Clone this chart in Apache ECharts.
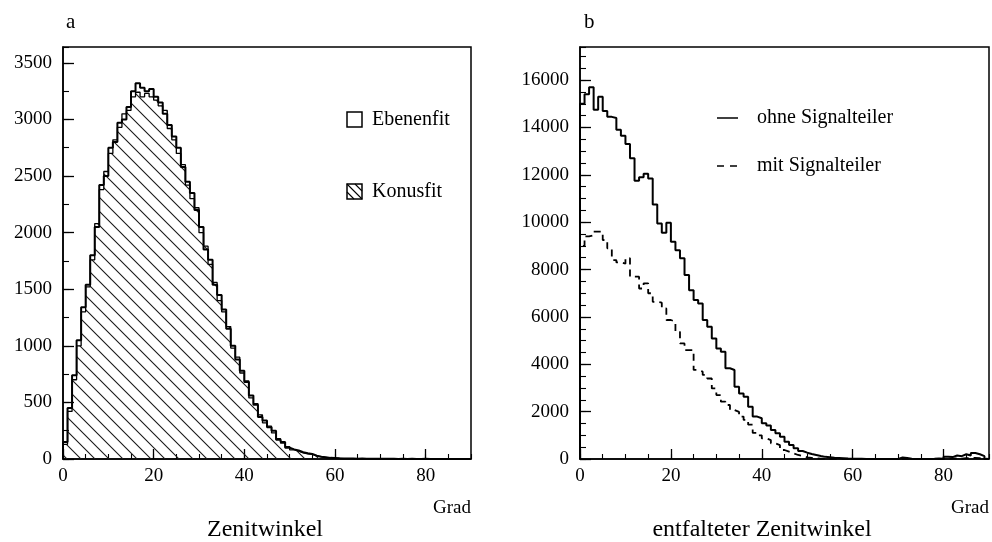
<!DOCTYPE html>
<html>
<head>
<meta charset="utf-8">
<script src="https://cdn.jsdelivr.net/npm/echarts@6/dist/echarts.min.js"></script>
<style>
  html, body { margin: 0; padding: 0; background: #fff; }
  #chart { width: 992px; height: 542px; }
</style>
</head>
<body>
<div id="chart"></div>
<script>
// Histograms of the zenith angle, 1-degree bins from 0 to 90 degrees.
const binWidth = 1;

// Panel a: reconstructed zenith angle
const ebenenfit = [
  150, 450, 740, 1050, 1340, 1540, 1800, 2050, 2420, 2500,
  2750, 2800, 2970, 3000, 3110, 3250, 3320, 3280, 3250, 3270,
  3200, 3150, 3050, 2950, 2850, 2750, 2580, 2450, 2350, 2200,
  2050, 1850, 1760, 1540, 1450, 1320, 1150, 1000, 880, 780,
  680, 560, 480, 370, 340, 280, 250, 170, 150, 100,
  85, 75, 60, 50, 45, 30, 20, 15, 10, 8,
  6, 5, 4, 5, 3, 4, 3, 2, 3, 2,
  2, 3, 2, 1, 2, 1, 2, 1, 1, 2,
  1, 1, 0, 1, 0, 1, 0, 0, 1, 0
];
const konusfit = [
  130, 420, 700, 1000, 1300, 1520, 1760, 2080, 2380, 2540,
  2700, 2820, 2930, 3050, 3080, 3200, 3240, 3200, 3230, 3200,
  3170, 3120, 3080, 2920, 2820, 2700, 2600, 2420, 2300, 2220,
  2000, 1880, 1720, 1560, 1400, 1300, 1170, 980, 900, 760,
  690, 540, 490, 390, 320, 290, 230, 180, 140, 110,
  80, 70, 55, 45, 40, 25, 18, 12, 10, 6,
  5, 4, 3, 4, 2, 3, 2, 2, 2, 1,
  2, 2, 1, 1, 1, 1, 1, 0, 1, 1,
  0, 1, 0, 0, 0, 1, 0, 0, 0, 0
];

// Panel b: unfolded zenith angle
const ohneSignalteiler = [
  15000, 15400, 15700, 14750, 15300, 14700, 14450, 14400, 13900, 13650,
  13300, 12700, 11750, 11900, 12050, 11850, 10750, 9950, 9550, 9980,
  9180, 8820, 8480, 7770, 7130, 6710, 6570, 5870, 5590, 5090,
  4670, 4530, 3830, 3760, 3050, 2770, 2630, 2210, 1790, 1720,
  1510, 1410, 1224, 1083, 942, 732, 591, 450, 338, 267,
  211, 169, 127, 90, 70, 50, 40, 30, 20, 15,
  10, 8, 5, 5, 3, 3, 2, 2, 2, 3,
  60, 40, 10, 5, 5, 3, 5, 10, 20, 10,
  100, 80, 150, 120, 200, 150, 250, 200, 120, 0
];
const mitSignalteiler = [
  9000, 9400, 9450, 9600, 9600, 9250, 8900, 8400, 8300, 8250,
  8480, 7700, 7700, 7200, 7420, 7000, 6640, 6600, 6360, 5870,
  5800, 5370, 4880, 4600, 4600, 3760, 3690, 3550, 3400, 2980,
  2700, 2420, 2280, 2070, 1990, 1790, 1650, 1450, 1100, 1000,
  870, 800, 660, 590, 380, 310, 240, 170, 130, 70,
  50, 30, 20, 15, 10, 8, 5, 4, 3, 2,
  2, 1, 1, 1, 1, 0, 1, 0, 0, 1,
  5, 3, 1, 0, 1, 0, 1, 2, 3, 1,
  20, 15, 30, 20, 40, 30, 50, 40, 20, 0
];

// Axis ranges and tick steps
const xRange = [0, 90];
const xMajor = 20, xMinor = 5;
const yRangeA = [0, 3640], yMajorA = 500, yMinorA = 250;
const yRangeB = [0, 17400], yMajorB = 2000, yMinorB = 500;

const SERIF = '"Liberation Serif", "DejaVu Serif", serif';
const plain = (v) => String(v);

// Bin values -> step polyline vertices (left edge of each bin, closing at the last edge)
function stepPoints(values) {
  const pts = [[0, 0]];
  values.forEach((v, i) => pts.push([i * binWidth, v]));
  pts.push([values.length * binWidth, values[values.length - 1]]);
  return pts;
}

// Diagonal "\" hatch tile used as the fill of the Konusfit area
function hatchTile() {
  const s = 14;
  const c = document.createElement('canvas');
  c.width = s; c.height = s;
  const g = c.getContext('2d');
  g.strokeStyle = '#1a1a1a';
  g.lineWidth = 1.1;
  g.beginPath();
  g.moveTo(-2, -2); g.lineTo(s + 2, s + 2);
  g.moveTo(-2, s - 2); g.lineTo(2, s + 2);
  g.moveTo(s - 2, -2); g.lineTo(s + 2, 2);
  g.stroke();
  return c;
}

function majorX(grid) {
  return {
    type: 'value', gridIndex: grid, position: 'bottom',
    min: xRange[0], max: xRange[1], interval: xMajor,
    axisLine: { show: true, lineStyle: { color: '#000', width: 1.5 } },
    axisTick: { show: true, inside: true, length: 10, lineStyle: { color: '#000', width: 1.3 } },
    axisLabel: { show: true, showMaxLabel: false, formatter: plain, color: '#000', fontFamily: SERIF, fontSize: 19, margin: 8 },
    splitLine: { show: false }
  };
}
function minorX(grid) {
  return {
    type: 'value', gridIndex: grid, position: 'bottom',
    min: xRange[0], max: xRange[1], interval: xMinor,
    axisLine: { show: false },
    axisTick: { show: true, inside: true, length: 5, lineStyle: { color: '#000', width: 1.1 } },
    axisLabel: { show: false },
    splitLine: { show: false }
  };
}
function majorY(grid, range, step) {
  return {
    type: 'value', gridIndex: grid, position: 'left',
    min: range[0], max: range[1], interval: step,
    axisLine: { show: true, lineStyle: { color: '#000', width: 1.5 } },
    axisTick: { show: true, inside: true, length: 11, lineStyle: { color: '#000', width: 1.3 } },
    axisLabel: { show: true, showMaxLabel: false, formatter: plain, color: '#000', fontFamily: SERIF, fontSize: 19, margin: 11 },
    splitLine: { show: false }
  };
}
function minorY(grid, range, step) {
  return {
    type: 'value', gridIndex: grid, position: 'left',
    min: range[0], max: range[1], interval: step,
    axisLine: { show: false },
    axisTick: { show: true, inside: true, length: 6, lineStyle: { color: '#000', width: 1.1 } },
    axisLabel: { show: false },
    splitLine: { show: false }
  };
}

function label(text, x, y, size, align) {
  return {
    type: 'text', silent: true,
    style: { text, x, y, font: size + 'px ' + SERIF, fill: '#000',
             textAlign: align || 'left', textVerticalAlign: 'middle' }
  };
}

const chart = echarts.init(document.getElementById('chart'), null, { renderer: 'canvas' });

chart.setOption({
  animation: false,
  backgroundColor: '#fff',
  grid: [
    { left: 63, top: 47, width: 408, bottom: 83, show: true, borderColor: '#000', borderWidth: 1.5, backgroundColor: 'transparent' },
    { left: 580, top: 47, width: 409, bottom: 83, show: true, borderColor: '#000', borderWidth: 1.5, backgroundColor: 'transparent' }
  ],
  xAxis: [majorX(0), minorX(0), majorX(1), minorX(1)],
  yAxis: [
    majorY(0, yRangeA, yMajorA), minorY(0, yRangeA, yMinorA),
    majorY(1, yRangeB, yMajorB), minorY(1, yRangeB, yMinorB)
  ],
  series: [
    {
      name: 'Konusfit', type: 'line', step: 'end', xAxisIndex: 0, yAxisIndex: 0,
      data: stepPoints(konusfit), symbol: 'none', z: 2,
      lineStyle: { color: '#000', width: 1.3 },
      areaStyle: { color: { image: hatchTile(), repeat: 'repeat' }, opacity: 1 }
    },
    {
      name: 'Ebenenfit', type: 'line', step: 'end', xAxisIndex: 0, yAxisIndex: 0,
      data: stepPoints(ebenenfit), symbol: 'none', z: 3,
      lineStyle: { color: '#000', width: 2 }
    },
    {
      name: 'ohne Signalteiler', type: 'line', step: 'end', xAxisIndex: 2, yAxisIndex: 2,
      data: stepPoints(ohneSignalteiler), symbol: 'none', z: 3,
      lineStyle: { color: '#000', width: 2 }
    },
    {
      name: 'mit Signalteiler', type: 'line', step: 'end', xAxisIndex: 2, yAxisIndex: 2,
      data: stepPoints(mitSignalteiler), symbol: 'none', z: 3,
      lineStyle: { color: '#000', width: 1.8, type: [7, 5] }
    }
  ],
  graphic: [
    // panel letters
    label('a', 66, 22, 21),
    label('b', 584, 22, 21),
    // axis unit and titles
    label('Grad', 471, 508, 19, 'right'),
    label('Grad', 989, 508, 19, 'right'),
    label('Zenitwinkel', 265, 530, 24, 'center'),
    label('entfalteter Zenitwinkel', 762, 530, 24, 'center'),
    // legend, panel a
    { type: 'rect', shape: { x: 347, y: 112, width: 15, height: 15 },
      style: { fill: '#fff', stroke: '#000', lineWidth: 1.5 } },
    label('Ebenenfit', 372, 120, 20),
    { type: 'rect', shape: { x: 347, y: 184, width: 15, height: 15 },
      style: { fill: '#fff', stroke: '#000', lineWidth: 1.5 } },
    { type: 'polyline', shape: { points: [[347, 184], [362, 199]] }, style: { stroke: '#000', lineWidth: 1.1 } },
    { type: 'polyline', shape: { points: [[347, 192], [354, 199]] }, style: { stroke: '#000', lineWidth: 1.1 } },
    { type: 'polyline', shape: { points: [[355, 184], [362, 191]] }, style: { stroke: '#000', lineWidth: 1.1 } },
    label('Konusfit', 372, 192, 20),
    // legend, panel b
    { type: 'polyline', shape: { points: [[717, 118], [738, 118]] }, style: { stroke: '#000', lineWidth: 1.5 } },
    label('ohne Signalteiler', 757, 118, 20),
    { type: 'polyline', shape: { points: [[717, 166], [738, 166]] }, style: { stroke: '#000', lineWidth: 1.5, lineDash: [7, 6] } },
    label('mit Signalteiler', 757, 166, 20)
  ]
});
</script>
</body>
</html>
